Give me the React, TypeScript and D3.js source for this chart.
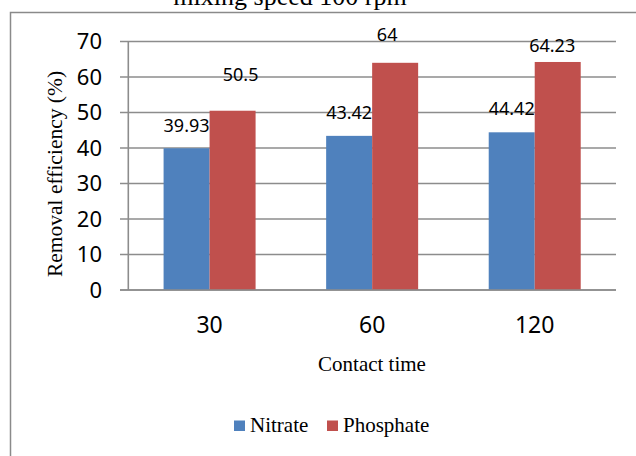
import { useEffect } from 'react';
import * as d3 from 'd3';

const categories = ['30', '60', '120'];
const seriesNames = ['Nitrate', 'Phosphate'];
const nitrate = [39.93, 43.42, 44.42];
const phosphate = [50.5, 64, 64.23];
const yTicks = [0, 10, 20, 30, 40, 50, 60, 70];

const colors = ['#4F81BD', '#C0504D'];
const W = 636;
const H = 456;
const plot = { left: 128.3, right: 616, top: 41.5, bottom: 290 };

// per-label nudges [dx, dy above bar top], label placement differs per bar in the original
const labelNudge = [
  [[0, 16], [8, 29.5]],
  [[0, 17], [-8, 22]],
  [[0, 17], [-5.5, 9.5]],
];
const legendX = [234, 327];

export default function App() {
  useEffect(() => {
    document.body.style.margin = '0';
  }, []);

  const x0 = d3.scaleBand().domain(categories).range([plot.left, plot.right]).padding(0);
  const barW = 46;
  const x1 = d3.scaleBand().domain(seriesNames).range([-barW, barW]).padding(0);
  const y = d3.scaleLinear().domain([0, 70]).range([plot.bottom, plot.top]);
  const values = [nitrate, phosphate];

  const sans = '"Noto Sans", "Open Sans", sans-serif';
  const serif = '"Liberation Serif", "Times New Roman", serif';

  return (
    <svg width={W} height={H} style={{ display: 'block' }} fontFamily={sans}>
      <rect x={0} y={0} width={W} height={H} fill="#fff" />
      <text x={290} y={5} textAnchor="middle" fontFamily={serif} fontSize={26} fill="#000">
        mixing speed 100 rpm
      </text>
      <rect x={10.5} y={12.5} width={700} height={500} fill="none" stroke="#8a8a8a" strokeWidth={1.5} />

      {yTicks.map((t) => (
        <g key={t}>
          <line x1={120} x2={plot.right} y1={y(t)} y2={y(t)} stroke="#8c8c8c" strokeWidth={1.6} />
          <text x={102} y={y(t)} dy="0.36em" textAnchor="end" fontSize={22} fill="#000">
            {t}
          </text>
        </g>
      ))}

      {categories.map((c, i) =>
        seriesNames.map((s, j) => {
          const cx = x0(c)! + x0.bandwidth() / 2;
          const bx = cx + x1(s)!;
          const v = values[j][i];
          const [dx, dy] = labelNudge[i][j];
          return (
            <g key={c + s}>
              <rect x={bx} y={y(v)} width={x1.bandwidth()} height={y(0) - y(v)} fill={colors[j]} />
              <text
                x={bx + x1.bandwidth() / 2 + dx}
                y={y(v) - dy}
                textAnchor="middle"
                fontSize={18}
                fill="#000"
              >
                {v}
              </text>
            </g>
          );
        })
      )}

      <line x1={plot.left} x2={plot.left} y1={plot.top} y2={plot.bottom} stroke="#8c8c8c" strokeWidth={1.6} />
      <line x1={120} x2={plot.right} y1={plot.bottom} y2={plot.bottom} stroke="#8c8c8c" strokeWidth={1.6} />

      {categories.map((c) => (
        <text key={c} x={x0(c)! + x0.bandwidth() / 2} y={333} textAnchor="middle" fontSize={23} fill="#000">
          {c}
        </text>
      ))}

      <text x={372} y={371} textAnchor="middle" fontFamily={serif} fontSize={21} fill="#000">
        Contact time
      </text>
      <text
        transform="translate(62,174) rotate(-90)"
        textAnchor="middle"
        fontFamily={serif}
        fontSize={21.5}
        fill="#000"
      >
        Removal efficiency (%)
      </text>

      {seriesNames.map((s, j) => (
        <g key={s} transform={`translate(${legendX[j]},0)`}>
          <rect x={0} y={420.5} width={11} height={10.5} fill={colors[j]} />
          <text x={16} y={432} fontFamily={serif} fontSize={21} fill="#000">
            {s}
          </text>
        </g>
      ))}
    </svg>
  );
}
